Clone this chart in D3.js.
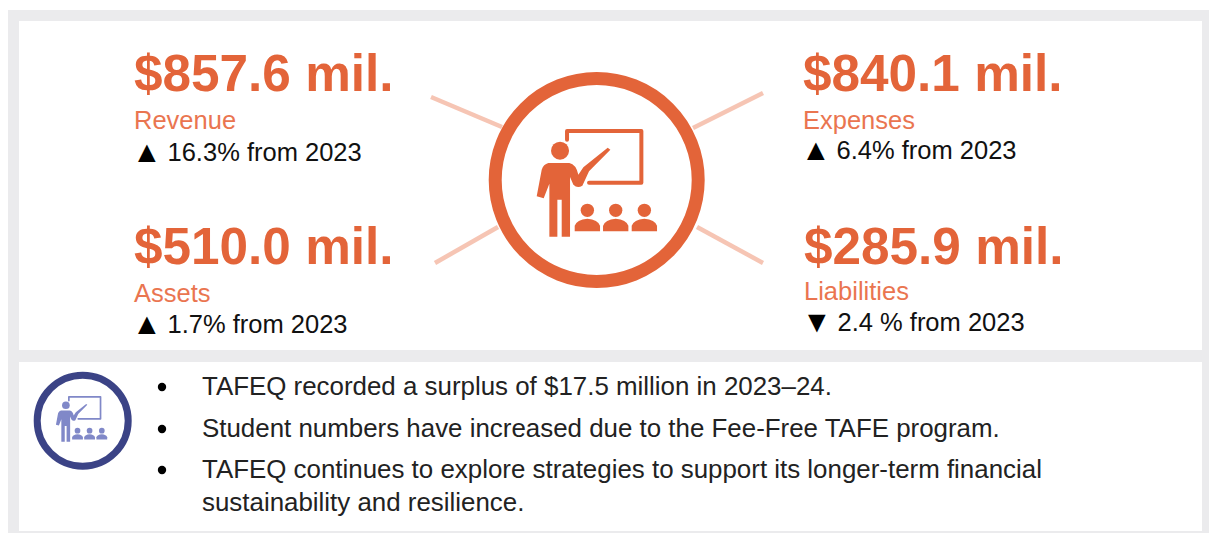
<!DOCTYPE html>
<html>
<head>
<meta charset="utf-8">
<script src="https://cdn.jsdelivr.net/npm/d3@7"></script>
<style>
  html, body { margin: 0; padding: 0; background: #fff; overflow: hidden; }
  text { font-family: "Liberation Sans", Arial, sans-serif; }
</style>
</head>
<body>
<div id="chart"></div>
<script>
var amounts = ["$857.6 mil.", "$840.1 mil.", "$510.0 mil.", "$285.9 mil."];
var labels = ["Revenue", "Expenses", "Assets", "Liabilities"];
var arrows = ["▲", "▲", "▲", "▼"];
var changes = ["16.3% from 2023", "6.4% from 2023", "1.7% from 2023", "2.4 % from 2023"];
var bullets = [
    ["TAFEQ recorded a surplus of $17.5 million in 2023–24."],
    ["Student numbers have increased due to the Fee-Free TAFE program."],
    ["TAFEQ continues to explore strategies to support its longer-term financial",
     "sustainability and resilience."]
];

// layout, one entry per stat
var statX = [134, 803, 134, 804],
    amountY = [91, 91, 264, 264],
    labelY = [129, 129, 302, 300],
    changeY = [161, 159, 333, 331],
    bulletY = [395, 437, 478],
    orange = "#e36439",
    orangeLight = "#f6c5b4",
    navy = "#3b4386",
    periwinkle = "#8088c8",
    grey = "#ebebed";

var svg = d3.select("#chart").append("svg")
    .attr("width", 1209)
    .attr("height", 533);

svg.append("rect").attr("x", 8).attr("y", 10).attr("width", 1201).attr("height", 523).attr("fill", grey);
svg.append("rect").attr("x", 19).attr("y", 21).attr("width", 1183).attr("height", 329).attr("fill", "#fff");
svg.append("rect").attr("x", 19).attr("y", 362).attr("width", 1183).attr("height", 169).attr("fill", "#fff");

// rays behind the big circle
var rays = [[431, 97, 502, 127], [763, 93, 693, 128], [435, 263, 498, 227], [763, 263, 697, 227]];
svg.selectAll("line.ray").data(rays).enter().append("line")
    .attr("class", "ray")
    .attr("x1", function (d) { return d[0]; })
    .attr("y1", function (d) { return d[1]; })
    .attr("x2", function (d) { return d[2]; })
    .attr("y2", function (d) { return d[3]; })
    .attr("stroke", orangeLight)
    .attr("stroke-width", 4.5);

// teacher icon, drawn in a 360x240 box centred on 530,370
function drawIcon(cx, cy, k, color) {
    var g = svg.append("g")
        .attr("transform", "translate(" + cx + "," + cy + ") scale(" + k + ") translate(-530,-370)")
        .attr("fill", color);
    g.append("path")
        .attr("d", "M441,240V214H664V369H507")
        .attr("fill", "none")
        .attr("stroke", color)
        .attr("stroke-width", 12)
        .attr("stroke-linejoin", "round")
        .attr("stroke-linecap", "round");
    g.append("circle").attr("cx", 420).attr("cy", 273).attr("r", 27);
    g.append("path").attr("d", "M385,310L448,310Q468,314 475,345L490,323L563,264L571,270L507,335L487,378Q472,388 460,375L450,352L450,531L425,531L425,420L412,420L412,531L388,531L388,372L371,416L350,410L365,330Q370,314 385,310Z");
    [502, 587, 673].forEach(function (x) {
        g.append("circle").attr("cx", x).attr("cy", 452).attr("r", 20);
        g.append("path").attr("d", "M" + (x - 38) + ",515V498Q" + (x - 32) + ",480 " + x + ",477Q" + (x + 32) + ",480 " + (x + 38) + ",498V515Z");
    });
}

svg.append("circle").attr("cx", 596.7).attr("cy", 180).attr("r", 101.5)
    .attr("fill", "#fff").attr("stroke", orange).attr("stroke-width", 13);
drawIcon(596.7, 183, 1 / 3, orange);

svg.append("circle").attr("cx", 82.7).attr("cy", 420.7).attr("r", 45.5)
    .attr("fill", "#fff").attr("stroke", navy).attr("stroke-width", 7);
drawIcon(81.5, 419, 0.142, periwinkle);

// four stats
var stats = svg.selectAll("g.stat").data(amounts).enter().append("g").attr("class", "stat");

stats.append("text")
    .attr("x", function (d, i) { return statX[i]; })
    .attr("y", function (d, i) { return amountY[i]; })
    .attr("font-size", 51.3)
    .attr("font-weight", "bold")
    .attr("fill", orange)
    .text(function (d) { return d; });

stats.append("text")
    .attr("x", function (d, i) { return statX[i]; })
    .attr("y", function (d, i) { return labelY[i]; })
    .attr("font-size", 25.5)
    .attr("fill", "#ea7550")
    .text(function (d, i) { return labels[i]; });

stats.append("text")
    .attr("x", function (d, i) { return statX[i] - 2; })
    .attr("y", function (d, i) { return changeY[i] + 1; })
    .attr("font-size", 30)
    .attr("fill", "#000")
    .text(function (d, i) { return arrows[i]; });

stats.append("text")
    .attr("x", function (d, i) { return statX[i] + 33.5; })
    .attr("y", function (d, i) { return changeY[i]; })
    .attr("font-size", 25.5)
    .attr("fill", "#111")
    .text(function (d, i) { return changes[i]; });

// bullet list
var items = svg.selectAll("g.item").data(bullets).enter().append("g").attr("class", "item");

items.append("circle")
    .attr("cx", 162)
    .attr("cy", function (d, i) { return bulletY[i] - 8; })
    .attr("r", 4.2)
    .attr("fill", "#000");

items.selectAll("text").data(function (d, i) {
    return d.map(function (t, j) { return { text: t, y: bulletY[i] + j * 33 }; });
}).enter().append("text")
    .attr("x", 202)
    .attr("y", function (d) { return d.y; })
    .attr("font-size", 25.9)
    .attr("fill", "#222")
    .text(function (d) { return d.text; });
</script>
</body>
</html>
